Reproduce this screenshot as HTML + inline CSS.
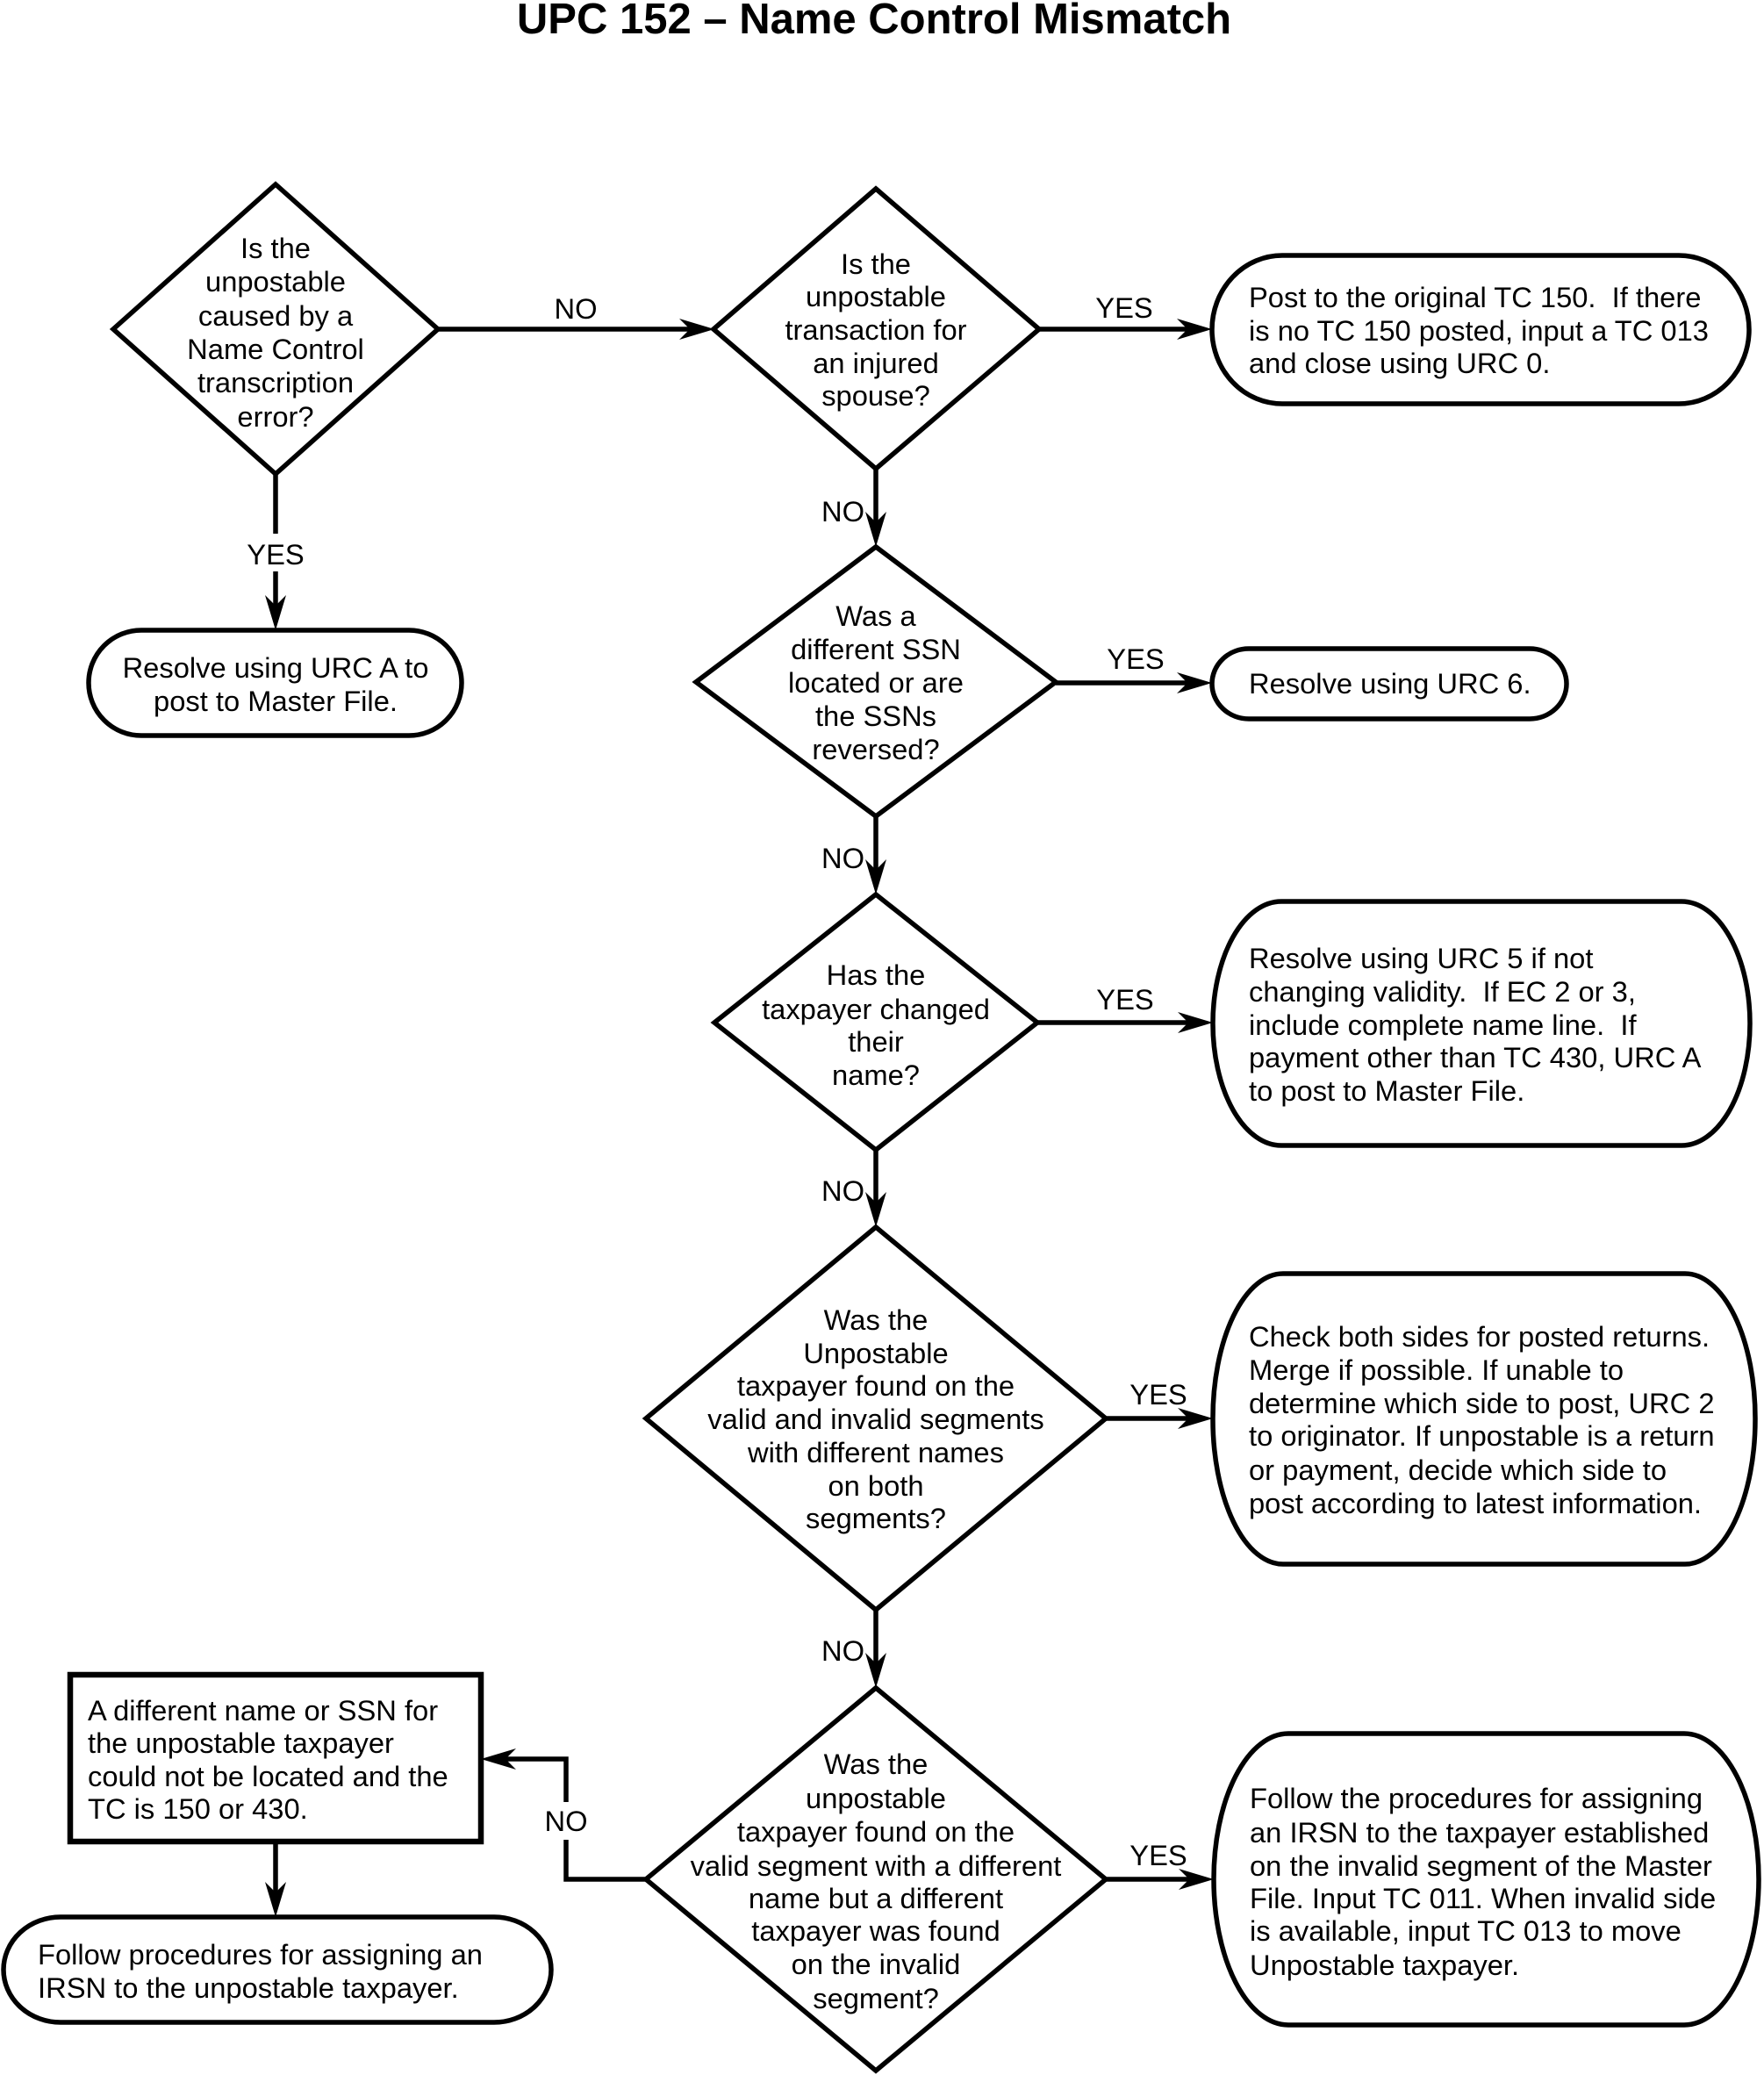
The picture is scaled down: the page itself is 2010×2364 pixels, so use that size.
<!DOCTYPE html>
<html>
<head>
<meta charset="utf-8">
<style>
  html, body { margin:0; padding:0; background:#fff; }
  svg { display:block; }
  text { font-family: "Liberation Sans", Arial, sans-serif; font-size:32.7px; fill:#000; white-space:pre; }
  .t { font-weight:bold; font-size:49px; }
  .c { text-anchor:middle; }
  .shape { fill:#fff; stroke:#000; stroke-width:5.5; stroke-linejoin:miter; }
  .ln { fill:none; stroke:#000; stroke-width:5.5; }
  .ah { fill:#000; stroke:none; }
</style>
</head>
<body>
<svg width="2010" height="2364" viewBox="0 0 2010 2364" xmlns="http://www.w3.org/2000/svg" xml:space="preserve">
  <rect x="0" y="0" width="2010" height="2364" fill="#fff"/>

  <!-- Title -->
  <text class="t c" x="996" y="38">UPC 152 – Name Control Mismatch</text>

  <!-- ===== Connectors ===== -->
  <line class="ln" x1="499" y1="375" x2="800" y2="375"/>
  <polygon class="ah" points="814,375 774,363 786,375 774,387"/>
  <text class="c" x="656" y="363">NO</text>

  <line class="ln" x1="314" y1="540" x2="314" y2="608"/>
  <line class="ln" x1="314" y1="651" x2="314" y2="705"/>
  <polygon class="ah" points="314,718 302,678 314,690 326,678"/>
  <text class="c" x="314" y="643">YES</text>

  <line class="ln" x1="1184" y1="375" x2="1368" y2="375"/>
  <polygon class="ah" points="1381,375 1341,363 1353,375 1341,387"/>
  <text class="c" x="1281" y="362">YES</text>

  <line class="ln" x1="998" y1="534" x2="998" y2="610"/>
  <polygon class="ah" points="998,623 986,583 998,595 1010,583"/>
  <text x="936" y="594">NO</text>

  <line class="ln" x1="1203" y1="778" x2="1368" y2="778"/>
  <polygon class="ah" points="1381,778 1341,766 1353,778 1341,790"/>
  <text class="c" x="1294" y="762">YES</text>

  <line class="ln" x1="998" y1="930" x2="998" y2="1006"/>
  <polygon class="ah" points="998,1019 986,979 998,991 1010,979"/>
  <text x="936" y="989">NO</text>

  <line class="ln" x1="1182" y1="1165" x2="1369" y2="1165"/>
  <polygon class="ah" points="1382,1165 1342,1153 1354,1165 1342,1177"/>
  <text class="c" x="1282" y="1150">YES</text>

  <line class="ln" x1="998" y1="1310" x2="998" y2="1385"/>
  <polygon class="ah" points="998,1398 986,1358 998,1370 1010,1358"/>
  <text x="936" y="1368">NO</text>

  <line class="ln" x1="1260" y1="1616" x2="1369" y2="1616"/>
  <polygon class="ah" points="1382,1616 1342,1604 1354,1616 1342,1628"/>
  <text class="c" x="1320" y="1600">YES</text>

  <line class="ln" x1="998" y1="1834" x2="998" y2="1910"/>
  <polygon class="ah" points="998,1923 986,1883 998,1895 1010,1883"/>
  <text x="936" y="1892">NO</text>

  <line class="ln" x1="1260" y1="2141" x2="1370" y2="2141"/>
  <polygon class="ah" points="1383,2141 1343,2129 1355,2141 1343,2153"/>
  <text class="c" x="1320" y="2125">YES</text>

  <polyline class="ln" points="736,2141 645,2141 645,2096"/>
  <polyline class="ln" points="645,2053 645,2004 561,2004"/>
  <polygon class="ah" points="548,2004 588,1992 576,2004 588,2016"/>
  <text class="c" x="645" y="2086">NO</text>

  <line class="ln" x1="314" y1="2098" x2="314" y2="2171"/>
  <polygon class="ah" points="314,2184 302,2144 314,2156 326,2144"/>

  <!-- ===== Diamonds ===== -->
  <polygon class="shape" points="314,210 499,375 314,540 129,375"/>
  <polygon class="shape" points="998,215 1184,375 998,534 813,375"/>
  <polygon class="shape" points="998,623 1203,777 998,930 793,777"/>
  <polygon class="shape" points="998,1019 1182,1165 998,1310 814,1165"/>
  <polygon class="shape" points="998,1398 1260,1616 998,1834 736,1616"/>
  <polygon class="shape" points="998,1923 1260,2141 998,2359 736,2141"/>

  <text class="c" x="314" y="294">Is the</text>
  <text class="c" x="314" y="332">unpostable</text>
  <text class="c" x="314" y="371">caused by a</text>
  <text class="c" x="314" y="409">Name Control</text>
  <text class="c" x="314" y="447">transcription</text>
  <text class="c" x="314" y="486">error?</text>

  <text class="c" x="998" y="312">Is the</text>
  <text class="c" x="998" y="349">unpostable</text>
  <text class="c" x="998" y="387">transaction for</text>
  <text class="c" x="998" y="425">an injured</text>
  <text class="c" x="998" y="462">spouse?</text>

  <text class="c" x="998" y="713">Was a</text>
  <text class="c" x="998" y="751">different SSN</text>
  <text class="c" x="998" y="789">located or are</text>
  <text class="c" x="998" y="827">the SSNs</text>
  <text class="c" x="998" y="865">reversed?</text>

  <text class="c" x="998" y="1122">Has the</text>
  <text class="c" x="998" y="1161">taxpayer changed</text>
  <text class="c" x="998" y="1198">their</text>
  <text class="c" x="998" y="1236">name?</text>

  <text class="c" x="998" y="1515">Was the</text>
  <text class="c" x="998" y="1553">Unpostable</text>
  <text class="c" x="998" y="1590">taxpayer found on the</text>
  <text class="c" x="998" y="1628">valid and invalid segments</text>
  <text class="c" x="998" y="1666">with different names</text>
  <text class="c" x="998" y="1704">on both</text>
  <text class="c" x="998" y="1741">segments?</text>

  <text class="c" x="998" y="2021">Was the</text>
  <text class="c" x="998" y="2060">unpostable</text>
  <text class="c" x="998" y="2098">taxpayer found on the</text>
  <text class="c" x="998" y="2137">valid segment with a different</text>
  <text class="c" x="998" y="2174">name but a different</text>
  <text class="c" x="998" y="2211">taxpayer was found</text>
  <text class="c" x="998" y="2249">on the invalid</text>
  <text class="c" x="998" y="2288">segment?</text>

  <!-- ===== Terminal boxes ===== -->
  <rect class="shape" x="101" y="718" width="425" height="120" rx="60" ry="60"/>
  <text class="c" x="314" y="772">Resolve using URC A to</text>
  <text class="c" x="314" y="810">post to Master File.</text>

  <rect class="shape" x="1381" y="291" width="612" height="169" rx="80" ry="84.5"/>
  <text x="1423" y="350">Post to the original TC 150.  If there</text>
  <text x="1423" y="388">is no TC 150 posted, input a TC 013</text>
  <text x="1423" y="425">and close using URC 0.</text>

  <rect class="shape" x="1381" y="739" width="404" height="80" rx="42" ry="40"/>
  <text x="1423" y="790">Resolve using URC 6.</text>

  <rect class="shape" x="1382" y="1027" width="612" height="278" rx="78" ry="139"/>
  <text x="1423" y="1103">Resolve using URC 5 if not</text>
  <text x="1423" y="1141">changing validity.  If EC 2 or 3,</text>
  <text x="1423" y="1179">include complete name line.  If</text>
  <text x="1423" y="1216">payment other than TC 430, URC A</text>
  <text x="1423" y="1254">to post to Master File.</text>

  <rect class="shape" x="1382" y="1451" width="618" height="331" rx="80" ry="165"/>
  <text x="1423" y="1534">Check both sides for posted returns.</text>
  <text x="1423" y="1572">Merge if possible. If unable to</text>
  <text x="1423" y="1610">determine which side to post, URC 2</text>
  <text x="1423" y="1647">to originator. If unpostable is a return</text>
  <text x="1423" y="1686">or payment, decide which side to</text>
  <text x="1423" y="1724">post according to latest information.</text>

  <rect class="shape" x="1383" y="1975" width="621" height="332" rx="85" ry="166"/>
  <text x="1424" y="2060">Follow the procedures for assigning</text>
  <text x="1424" y="2099">an IRSN to the taxpayer established</text>
  <text x="1424" y="2137">on the invalid segment of the Master</text>
  <text x="1424" y="2174">File. Input TC 011. When invalid side</text>
  <text x="1424" y="2211">is available, input TC 013 to move</text>
  <text x="1424" y="2250">Unpostable taxpayer.</text>

  <rect class="shape" x="80" y="1908" width="468" height="190" style="stroke-width:6.5"/>
  <text x="100" y="1960">A different name or SSN for</text>
  <text x="100" y="1997">the unpostable taxpayer</text>
  <text x="100" y="2035">could not be located and the</text>
  <text x="100" y="2072">TC is 150 or 430.</text>

  <rect class="shape" x="4" y="2184" width="624" height="120" rx="65" ry="60"/>
  <text x="43" y="2238">Follow procedures for assigning an</text>
  <text x="43" y="2276">IRSN to the unpostable taxpayer.</text>
</svg>
</body>
</html>
